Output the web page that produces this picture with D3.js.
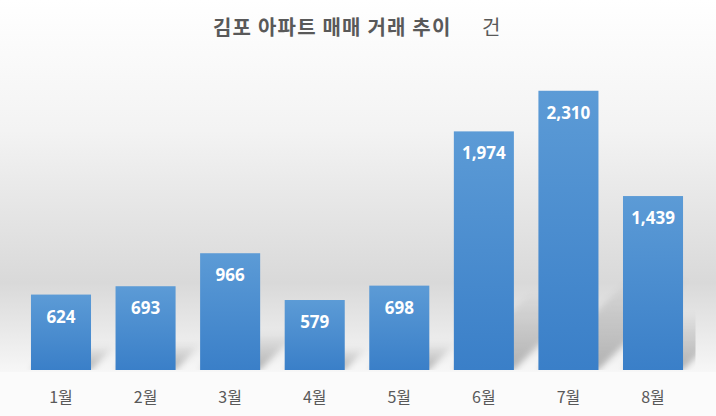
<!DOCTYPE html>
<html><head><meta charset="utf-8">
<script src="https://cdn.jsdelivr.net/npm/d3@7"></script>
<style>
html,body{margin:0;padding:0;background:#fff;}
svg{display:block;}
</style></head>
<body>
<script>
const categories = ["1월","2월","3월","4월","5월","6월","7월","8월"];
const values = [624, 693, 966, 579, 698, 1974, 2310, 1439];
const valueLabels = ["624","693","966","579","698","1,974","2,310","1,439"];
const titleMain = "김포 아파트 매매 거래 추이";
const titleUnit = "건";

const W = 716, H = 416;
const svg = d3.select("body").append("svg").attr("width", W).attr("height", H);
const defs = svg.append("defs");

const bg = defs.append("linearGradient").attr("id","bg").attr("x1",0).attr("y1",0).attr("x2",0).attr("y2",1);
[[0,"#ffffff"],[0.35,"#f3f3f3"],[0.76,"#d9d9d9"],[0.97,"#f3f3f3"],[1,"#f7f7f7"]].forEach(s=>bg.append("stop").attr("offset",s[0]).attr("stop-color",s[1]));

const bar = defs.append("linearGradient").attr("id","bar").attr("x1",0).attr("y1",0).attr("x2",0).attr("y2",1);
[[0,"#5c9bd6"],[1,"#3a7fc8"]].forEach(s=>bar.append("stop").attr("offset",s[0]).attr("stop-color",s[1]));

const sh = defs.append("linearGradient").attr("id","sh").attr("x1",0).attr("y1",1).attr("x2",0).attr("y2",0);
[[0,"#000",0.28],[0.6,"#000",0.12],[1,"#000",0]].forEach(s=>sh.append("stop").attr("offset",s[0]).attr("stop-color",s[1]).attr("stop-opacity",s[2]));
defs.append("filter").attr("id","blur").attr("x","-20%").attr("y","-20%").attr("width","140%").attr("height","140%")
  .append("feGaussianBlur").attr("stdDeviation",3);

svg.append("rect").attr("width",W).attr("height",H).attr("fill","#fbfbfb");
svg.append("rect").attr("width",W).attr("height",372).attr("fill","url(#bg)");

const x = d3.scaleBand().domain(categories).range([18.7, 695.3]).paddingInner(0.29).paddingOuter(0.145);
const y = d3.scaleLinear().domain([0, 2500]).range([370, 67.8]);

defs.append("clipPath").attr("id","plotclip").append("rect").attr("x",0).attr("y",0).attr("width",695.5).attr("height",370);

// shadows
const shadowG = svg.append("g").attr("clip-path","url(#plotclip)");
shadowG.selectAll("path").data(categories).join("path")
  .attr("d",(c,i)=>{
    const x0 = x(c), x1 = x(c)+x.bandwidth(), b = y(0), h = y(0)-y(values[i]);
    const d = h*0.33;
    return `M${x0},${b}L${x1},${b}L${x1+d},${b-d}L${x0+d},${b-d}Z`;
  })
  .attr("fill","url(#sh)")
  .attr("filter","url(#blur)");

svg.append("g").selectAll("rect").data(categories).join("rect")
  .attr("x",c=>x(c)).attr("width",x.bandwidth())
  .attr("y",(c,i)=>y(values[i])).attr("height",(c,i)=>y(0)-y(values[i]))
  .attr("fill","url(#bar)");

svg.append("g").selectAll("text").data(categories).join("text")
  .attr("x",c=>x(c)+x.bandwidth()/2)
  .attr("y",(c,i)=>y(values[i])+28)
  .attr("text-anchor","middle")
  .attr("fill","#ffffff")
  .attr("font-family","'Open Sans', sans-serif")
  .attr("font-weight","bold")
  .attr("font-size",17)
  .text((c,i)=>valueLabels[i]);

const xAxis = d3.axisBottom(x).tickSize(0).tickPadding(0);
const ax = svg.append("g").attr("transform","translate(0,372)").call(xAxis);
ax.select(".domain").remove();
ax.selectAll("text").attr("fill","#595959").attr("font-size",16)
  .attr("font-family","'Noto Sans CJK KR', sans-serif").attr("dy",0).attr("y",31);

const t = svg.append("text").attr("x",213).attr("y",35)
  .attr("font-family","'Noto Sans CJK KR', sans-serif").attr("fill","#595959").attr("font-size",20)
  .attr("letter-spacing",1.2);
t.append("tspan").attr("font-weight","bold").text(titleMain);
svg.append("text").attr("x",482).attr("y",35)
  .attr("font-family","'Noto Sans CJK KR', sans-serif").attr("fill","#595959").attr("font-size",20).text(titleUnit);
</script>
</body></html>
